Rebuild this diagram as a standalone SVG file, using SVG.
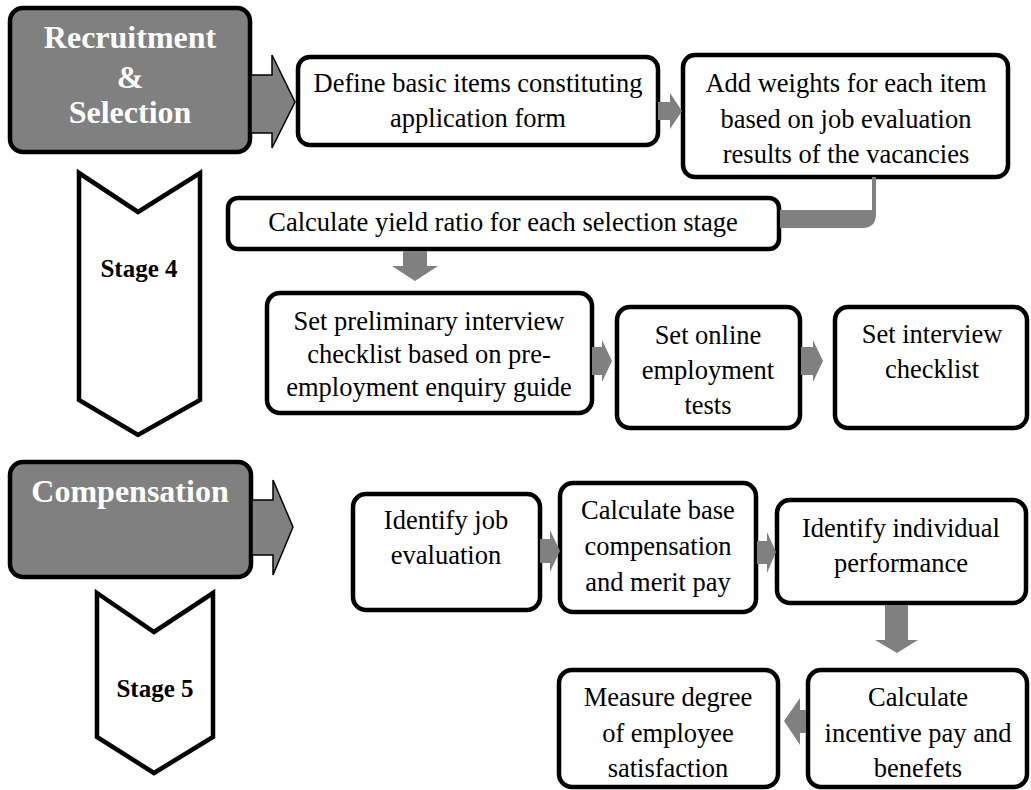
<svg xmlns="http://www.w3.org/2000/svg" width="1031" height="790" viewBox="0 0 1031 790">
  <style>
    .box { fill: #ffffff; stroke: #000000; stroke-width: 4.5; }
    .head { fill: #808080; stroke: #000000; stroke-width: 4.5; }
    .stage { fill: #ffffff; stroke: #000000; stroke-width: 4.5; stroke-linejoin: miter; }
    .big { fill: #808080; stroke: #000000; stroke-width: 1.5; }
    .conn { fill: #808080; stroke: none; }
    text { font-family: "Liberation Serif", "Times New Roman", serif; }
    .t { font-size: 26.5px; fill: #000000; text-anchor: middle; }
    .h { font-size: 32px; font-weight: bold; fill: #ffffff; text-anchor: middle; }
    .s { font-size: 25px; font-weight: bold; fill: #000000; text-anchor: middle; }
  </style>

  <!-- Stage 4: Recruitment & Selection -->
  <g id="recruitment">
    <rect class="head" x="10" y="8" width="240" height="144" rx="13"/>
    <text class="h" x="130" y="48">Recruitment</text>
    <text class="h" x="130" y="88">&amp;</text>
    <text class="h" x="130" y="123">Selection</text>
  </g>
  <g id="stage4">
    <polygon class="stage" points="79,173 138,212 200,173 200,400 138,435 79,400"/>
    <text class="s" x="139" y="277">Stage 4</text>
  </g>
  <g id="define-items">
    <rect class="box" x="298" y="57" width="360" height="88" rx="12"/>
    <text class="t" x="478" y="92">Define basic items constituting</text>
    <text class="t" x="478" y="127">application form</text>
  </g>
  <g id="add-weights">
    <rect class="box" x="683" y="55" width="325" height="122" rx="12"/>
    <text class="t" x="846" y="92">Add weights for each item</text>
    <text class="t" x="846" y="128">based on job evaluation</text>
    <text class="t" x="846" y="163">results of the vacancies</text>
  </g>
  <g id="yield-ratio">
    <rect class="box" x="228" y="198" width="551" height="51" rx="10"/>
    <text class="t" x="503" y="231">Calculate yield ratio for each selection stage</text>
  </g>
  <g id="preliminary-interview">
    <rect class="box" x="267" y="293" width="325" height="120" rx="13"/>
    <text class="t" x="429" y="330">Set preliminary interview</text>
    <text class="t" x="429" y="363">checklist based on pre-</text>
    <text class="t" x="429" y="396">employment enquiry guide</text>
  </g>
  <g id="online-tests">
    <rect class="box" x="617" y="307" width="183" height="121" rx="13"/>
    <text class="t" x="708" y="344">Set online</text>
    <text class="t" x="708" y="379">employment</text>
    <text class="t" x="708" y="414">tests</text>
  </g>
  <g id="interview-checklist">
    <rect class="box" x="835" y="307" width="192" height="121" rx="13"/>
    <text class="t" x="932" y="343">Set interview</text>
    <text class="t" x="932" y="378">checklist</text>
  </g>

  <!-- Stage 5: Compensation -->
  <g id="compensation">
    <rect class="head" x="10" y="462" width="241" height="115" rx="13"/>
    <text class="h" x="130" y="502">Compensation</text>
  </g>
  <g id="stage5">
    <polygon class="stage" points="97,593 154,632 213,593 213,737 154,773 97,737"/>
    <text class="s" x="155" y="697">Stage 5</text>
  </g>
  <g id="job-evaluation">
    <rect class="box" x="353" y="494" width="187" height="116" rx="13"/>
    <text class="t" x="446" y="529">Identify job</text>
    <text class="t" x="446" y="564">evaluation</text>
  </g>
  <g id="base-compensation">
    <rect class="box" x="560" y="483" width="196" height="129" rx="13"/>
    <text class="t" x="658" y="519">Calculate base</text>
    <text class="t" x="658" y="555">compensation</text>
    <text class="t" x="658" y="591">and merit pay</text>
  </g>
  <g id="individual-performance">
    <rect class="box" x="777" y="500" width="249" height="103" rx="13"/>
    <text class="t" x="901" y="537">Identify individual</text>
    <text class="t" x="901" y="572">performance</text>
  </g>
  <g id="incentive-pay">
    <rect class="box" x="808" y="670" width="219" height="117" rx="13"/>
    <text class="t" x="918" y="706">Calculate</text>
    <text class="t" x="918" y="742">incentive pay and</text>
    <text class="t" x="918" y="777">benefets</text>
  </g>
  <g id="employee-satisfaction">
    <rect class="box" x="559" y="670" width="219" height="117" rx="13"/>
    <text class="t" x="668" y="706">Measure degree</text>
    <text class="t" x="668" y="742">of employee</text>
    <text class="t" x="668" y="777">satisfaction</text>
  </g>

  <!-- connectors -->
  <g id="connectors">
    <!-- block arrows leaving the stage headers -->
    <polygon class="big" points="251,75 272,75 272,55 295,102 272,148 272,133 251,133"/>
    <polygon class="big" points="252,500 273,500 273,480 293,527 273,575 273,555 252,555"/>
    <!-- stage 4 flow -->
    <polygon class="conn" points="658,102 670,102 670,93 682,111 670,129 670,120 658,120"/>
    <path class="conn" d="M872,177 L876,177 L876,214 Q876,228 862,228 L780,228 L780,210 L872,210 Z"/>
    <polygon class="conn" points="403,251 427,251 427,266 438,266 415,281 392,266 403,266"/>
    <polygon class="conn" points="592,347 602,347 602,340 612,361 602,382 602,375 592,375"/>
    <polygon class="conn" points="801,347 813,347 813,340 823,361 813,382 813,375 801,375"/>
    <!-- stage 5 flow -->
    <polygon class="conn" points="540,539 550,539 550,530 560,551 550,572 550,563 540,563"/>
    <polygon class="conn" points="757,541 767,541 767,532 776,552 767,573 767,564 757,564"/>
    <polygon class="conn" points="885,605 908,605 908,640 918,640 897,653 875,640 885,640"/>
    <polygon class="conn" points="806,710 800,710 800,698 784,721 800,745 800,733 806,733"/>
  </g>
</svg>
